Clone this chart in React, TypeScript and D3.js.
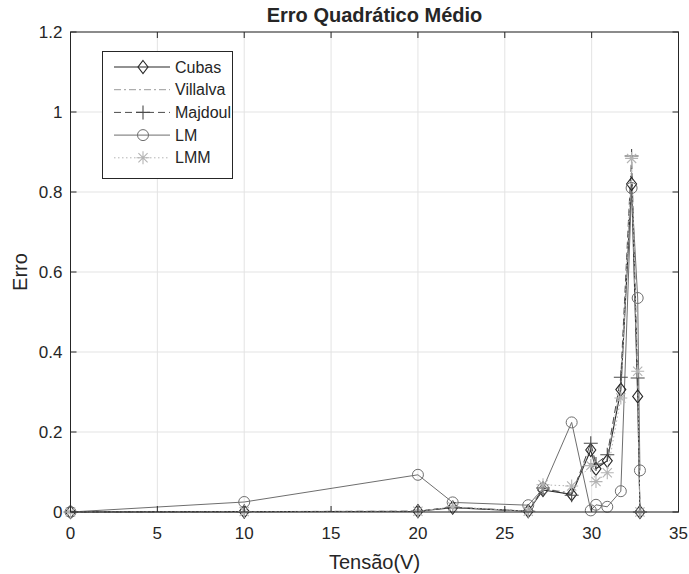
import React from "react";
import * as d3 from "d3";

const tensao = [0, 10, 20, 22, 26.35, 27.2, 28.85, 29.95, 30.25, 30.9, 31.68, 32.3, 32.65, 32.78];
const cubas = [0, 0.001, 0.002, 0.011, 0.002, 0.055, 0.044, 0.155, 0.108, 0.128, 0.306, 0.82, 0.289, 0];
const villalva = [0, 0.001, 0.002, 0.012, 0.002, 0.058, 0.048, 0.16, 0.112, 0.132, 0.318, 0.85, 0.3, 0];
const majdoul = [0, 0.001, 0.002, 0.012, 0.002, 0.06, 0.042, 0.172, 0.12, 0.143, 0.337, 0.89, 0.335, 0];
const lm = [0, 0.025, 0.093, 0.024, 0.017, 0.059, 0.224, 0.004, 0.018, 0.013, 0.052, 0.81, 0.535, 0.104];
const lmm = [0, 0.001, 0.002, 0.013, 0.002, 0.068, 0.065, 0.116, 0.076, 0.098, 0.285, 0.884, 0.352, 0];

const xTicks = [0, 5, 10, 15, 20, 25, 30, 35];
const yTicks = [0, 0.2, 0.4, 0.6, 0.8, 1, 1.2];

const seriesNames = ["Cubas", "Villalva", "Majdoul", "LM", "LMM"];
const seriesData = [cubas, villalva, majdoul, lm, lmm];

const styles = [
  { color: "#262626", dash: "", marker: "diamond", width: 1.1 },
  { color: "#9a9a9a", dash: "7,3,2,3", marker: "none", width: 1 },
  { color: "#4a4a4a", dash: "7,4", marker: "plus", width: 1 },
  { color: "#6e6e6e", dash: "", marker: "circle", width: 1 },
  { color: "#b4b4b4", dash: "1.5,2.5", marker: "star", width: 1 },
];

const L = 70.5, R = 678.5, T = 32, B = 512;
const FONT = "'Liberation Sans', Arial, Helvetica, sans-serif";

function Marker({ type, x, y, color }: { type: string; x: number; y: number; color: string }) {
  if (type === "diamond") {
    return <path d={`M${x},${y - 6.5}L${x + 5},${y}L${x},${y + 6.5}L${x - 5},${y}Z`} fill="none" stroke={color} strokeWidth={1.1} />;
  }
  if (type === "circle") {
    return <circle cx={x} cy={y} r={5.5} fill="none" stroke={color} strokeWidth={1} />;
  }
  if (type === "plus") {
    return <path d={`M${x - 7},${y}H${x + 7}M${x},${y - 7}V${y + 7}`} stroke={color} strokeWidth={1.1} fill="none" />;
  }
  if (type === "star") {
    const s = 6.5, d = 4.6;
    return <path d={`M${x - s},${y}H${x + s}M${x},${y - s}V${y + s}M${x - d},${y - d}L${x + d},${y + d}M${x - d},${y + d}L${x + d},${y - d}`} stroke={color} strokeWidth={1.1} fill="none" />;
  }
  return null;
}

export default function App() {
  const x = d3.scaleLinear().domain([0, 35]).range([L, R]);
  const y = d3.scaleLinear().domain([0, 1.2]).range([B, T]);
  const line = d3.line<[number, number]>().x(d => x(d[0])).y(d => y(d[1]));

  const legX = 102.5, legY = 51.5, legW = 130, legH = 127;
  const rowY = (i: number) => legY + 15.5 + i * 22.7;

  return (
    <svg width={689} height={574} style={{ position: "absolute", left: 0, top: 0, background: "#fff" }} fontFamily={FONT}>
      <rect x={0} y={0} width={689} height={574} fill="#fff" />
      {xTicks.map(t => (
        <line key={"gx" + t} x1={x(t)} x2={x(t)} y1={T} y2={B} stroke="#e3e3e3" strokeWidth={1} />
      ))}
      {yTicks.map(t => (
        <line key={"gy" + t} x1={L} x2={R} y1={y(t)} y2={y(t)} stroke="#e3e3e3" strokeWidth={1} />
      ))}
      {seriesData.map((vals, i) => {
        const pts: [number, number][] = tensao.map((t, j) => [t, vals[j]]);
        return <path key={"l" + i} d={line(pts) || ""} fill="none" stroke={styles[i].color} strokeWidth={styles[i].width} strokeDasharray={styles[i].dash} />;
      })}
      {seriesData.map((vals, i) =>
        tensao.map((t, j) => (
          <Marker key={"m" + i + "-" + j} type={styles[i].marker} x={x(t)} y={y(vals[j])} color={styles[i].color} />
        ))
      )}
      <rect x={L} y={T} width={R - L} height={B - T} fill="none" stroke="#262626" strokeWidth={1} />
      {xTicks.map(t => (
        <g key={"tx" + t}>
          <line x1={x(t)} x2={x(t)} y1={B} y2={B - 6} stroke="#262626" />
          <line x1={x(t)} x2={x(t)} y1={T} y2={T + 6} stroke="#262626" />
          <text x={x(t)} y={B + 27} textAnchor="middle" fontSize={17} fill="#262626">{t}</text>
        </g>
      ))}
      {yTicks.map(t => (
        <g key={"ty" + t}>
          <line x1={L} x2={L + 6} y1={y(t)} y2={y(t)} stroke="#262626" />
          <line x1={R} x2={R - 6} y1={y(t)} y2={y(t)} stroke="#262626" />
          <text x={L - 8} y={y(t) + 6} textAnchor="end" fontSize={17} fill="#262626">{t}</text>
        </g>
      ))}
      <text x={(L + R) / 2} y={22} textAnchor="middle" fontSize={20} fontWeight="bold" fill="#262626">Erro Quadrático Médio</text>
      <text x={(L + R) / 2} y={569} textAnchor="middle" fontSize={20} fill="#262626">Tensão(V)</text>
      <text transform={`translate(27,${(T + B) / 2}) rotate(-90)`} textAnchor="middle" fontSize={20} fill="#262626">Erro</text>
      <rect x={legX} y={legY} width={legW} height={legH} fill="#fff" stroke="#262626" strokeWidth={1} />
      {seriesNames.map((n, i) => (
        <g key={"lg" + i}>
          <line x1={114} x2={170} y1={rowY(i)} y2={rowY(i)} stroke={styles[i].color} strokeWidth={styles[i].width} strokeDasharray={styles[i].dash} />
          <Marker type={styles[i].marker} x={143} y={rowY(i)} color={styles[i].color} />
          <text x={175} y={rowY(i) + 5.5} fontSize={16} fill="#262626">{n}</text>
        </g>
      ))}
    </svg>
  );
}
